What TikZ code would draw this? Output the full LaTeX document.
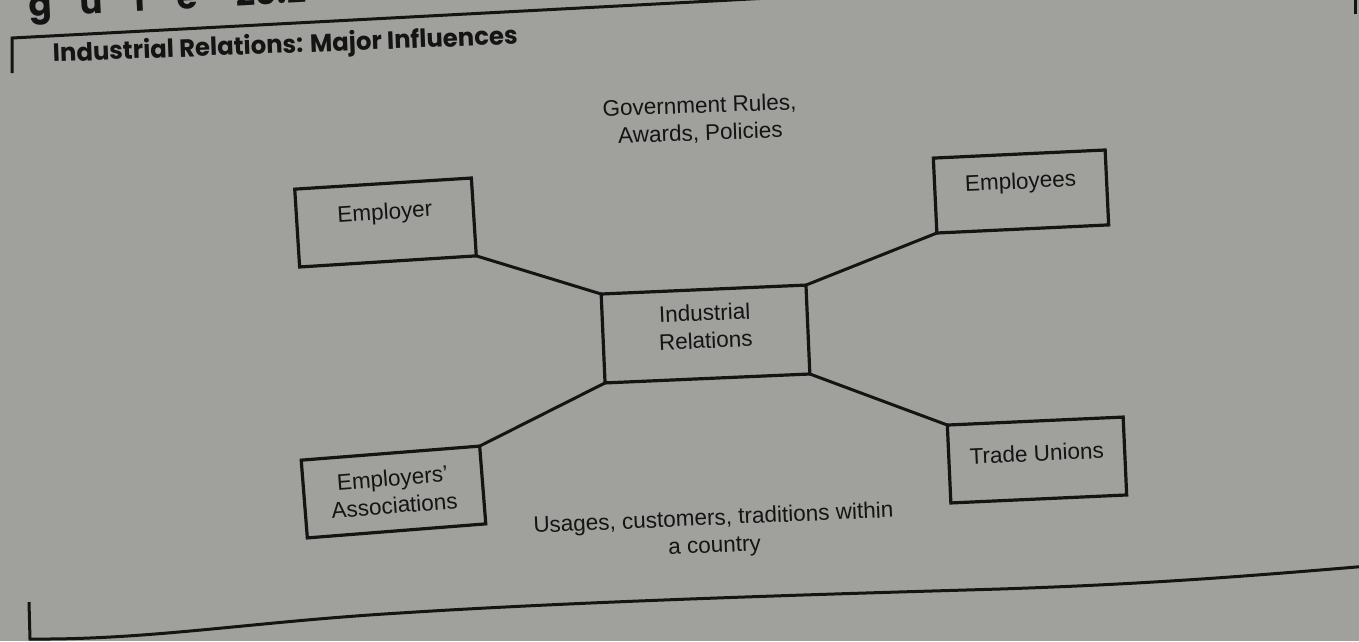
\documentclass[tikz,border=0pt]{standalone}
\usepackage{fontspec}
\usepackage{graphicx}
\setmainfont{Liberation Sans}
\newfontfamily\titlefont{Poppins}
\definecolor{paper}{RGB}{160,160,157}
\definecolor{ink}{RGB}{20,20,20}
\begin{document}
\begin{tikzpicture}[x=1pt,y=-1pt,
  box/.style={draw=ink, line width=3.2pt, outer sep=0pt, inner sep=0pt},
  wire/.style={draw=ink, line width=3pt, line cap=round},
  lbl/.style={text=ink, font=\fontsize{22.5}{27.5}\selectfont, align=center, inner sep=0pt},
  rule/.style={draw=ink, line width=3pt},
]
% page area
\useasboundingbox (0,0) rectangle (1359,641);
\fill[paper] (0,0) rectangle (1359,641);
\clip (0,0) rectangle (1359,641);

% figure number, cut by the top edge
\node[anchor=base west, rotate=3, text=ink, inner sep=0pt,
      font=\titlefont\bfseries\fontsize{34}{34}\selectfont] (fignum) at (29,17)
  {g\hspace{28pt}u\hspace{32pt}r\hspace{28pt}e\hspace{38pt}20.2};

% caption
\node[anchor=base west, rotate=2.2, text=ink, inner sep=0pt] (title) at (53,62)
  {\resizebox{465pt}{20pt}{\titlefont\bfseries Industrial Relations: Major Influences}};

% frame rules
\draw[rule] (12,73) -- (12,38) -- (760,-1.5);
\draw[rule] (1355,-2) -- (1355,14);
\draw[rule] (29,602) -- (30,639)
  .. controls (150,640) and (250,622) .. (400,613)
  .. controls (600,600) and (900,592) .. (1000,589)
  .. controls (1150,584) and (1250,576) .. (1380,565);

% boxes
\node[box, minimum width=177pt, minimum height=78pt, rotate=3.6,
      label={[lbl, rotate=3.6, yshift=9pt]center:Employer}] (employer) at (385.5,222.5) {};
\node[box, minimum width=172pt, minimum height=75pt, rotate=2.7,
      label={[lbl, rotate=2.7, yshift=8.5pt]center:Employees}] (employees) at (1021,191.5) {};
\node[box, minimum width=205pt, minimum height=89pt, rotate=2.5,
      label={[lbl, rotate=2.5, yshift=7.5pt]center:Industrial\\Relations}] (ir) at (705.5,334) {};
\node[box, minimum width=179pt, minimum height=78pt, rotate=4.5,
      label={[lbl, rotate=4.5, yshift=0.5pt]center:Employers'\\Associations}] (ea) at (393.5,492) {};
\node[box, minimum width=176pt, minimum height=78pt, rotate=2.6,
      label={[lbl, rotate=2.6, yshift=7pt]center:Trade Unions}] (tu) at (1037,460) {};

% connectors
\draw[wire] (employer.south east) -- (ir.north west);
\draw[wire] (employees.south west) -- (ir.north east);
\draw[wire] (ir.south west) -- (ea.north east);
\draw[wire] (ir.south east) -- (tu.north west);

% surrounding influences
\node[lbl, rotate=2] (gov) at (700,120) {Government Rules,\\Awards, Policies};
\node[lbl, rotate=2.5] (usages) at (714,533) {Usages, customers, traditions within\\a country};
\end{tikzpicture}
\end{document}
